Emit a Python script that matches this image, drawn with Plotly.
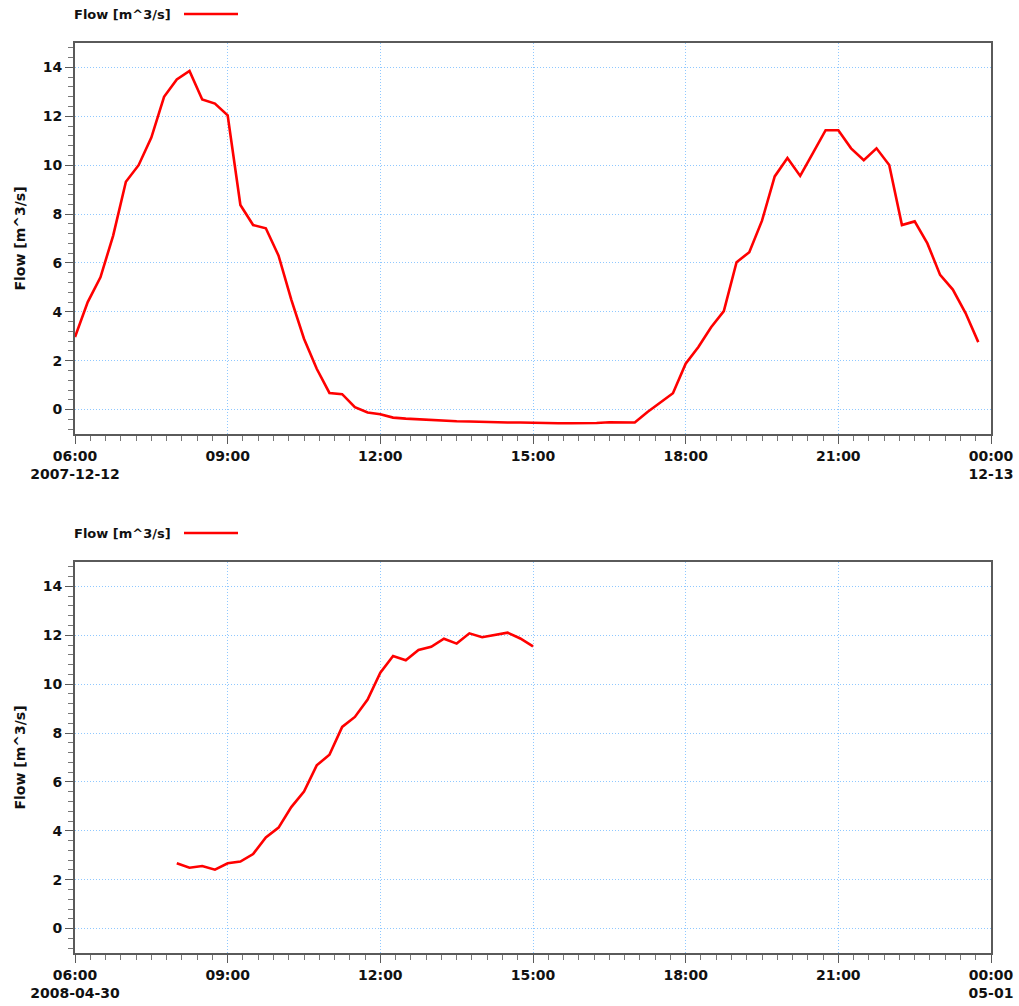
import pandas as pd
import plotly.graph_objects as go
from plotly.subplots import make_subplots

# ---- data ----
top_start = "2007-12-12 06:00"
top_values = [2.97, 4.40, 5.41, 7.12, 9.32, 10.00, 11.13, 12.80, 13.51, 13.86,
              12.69, 12.52, 12.04, 8.37, 7.55, 7.42, 6.30, 4.50, 2.90, 1.67,
              0.68, 0.63, 0.10, -0.12, -0.19, -0.33, -0.37, -0.40, -0.44, -0.46,
              -0.48, -0.49, -0.51, -0.52, -0.53, -0.53, -0.55, -0.56, -0.56, -0.56,
              -0.56, -0.55, -0.52, -0.51, -0.53, -0.10, 0.29, 0.67, 1.88, 2.56,
              3.37, 4.03, 6.03, 6.44, 7.73, 9.54, 10.29, 9.56, 10.49, 11.43,
              11.43, 10.69, 10.20, 10.69, 10.01, 7.55, 7.70, 6.80, 5.51, 4.91,
              3.95, 2.76]
bot_start = "2008-04-30 08:00"
bot_values = [2.67, 2.49, 2.56, 2.41, 2.67, 2.74, 3.05, 3.73, 4.13, 4.97,
              5.61, 6.68, 7.11, 8.25, 8.66, 9.37, 10.47, 11.15, 10.98, 11.40,
              11.53, 11.86, 11.66, 12.08, 11.92, 12.01, 12.11, 11.87, 11.55]
top_times = pd.date_range(top_start, periods=len(top_values), freq="15min")
bot_times = pd.date_range(bot_start, periods=len(bot_values), freq="15min")

top_range = ["2007-12-12 06:00", "2007-12-13 00:00"]
bot_range = ["2008-04-30 06:00", "2008-05-01 00:00"]
top_ticktext = ["06:00<br>2007-12-12", "09:00", "12:00", "15:00", "18:00", "21:00", "00:00<br>12-13"]
bot_ticktext = ["06:00<br>2008-04-30", "09:00", "12:00", "15:00", "18:00", "21:00", "00:00<br>05-01"]
y_tickvals = [0, 2, 4, 6, 8, 10, 12, 14]
series_name = "Flow [m^3/s]"
y_title = "Flow [m^3/s]"

# ---- figure ----
W, H = 1019, 1006
ML, MR, MT, MB = 75, 28, 43, 53
fig = make_subplots(rows=2, cols=1)

RED = "#ff0000"
fig.add_trace(go.Scatter(x=top_times, y=top_values, mode="lines",
                         line=dict(color=RED, width=2.6), name=series_name,
                         showlegend=False), row=1, col=1)
fig.add_trace(go.Scatter(x=bot_times, y=bot_values, mode="lines",
                         line=dict(color=RED, width=2.6), name=series_name,
                         showlegend=False), row=2, col=1)

plot_h = H - MT - MB
top_dom = [1 - 391 / plot_h, 1]
bot_dom = [0, 1 - (562 - MT) / plot_h]

FONT = "DejaVu Sans, Verdana, sans-serif"
GRID = "#8fc8ff"
AX = "#5a5a5a"
TXT = "#111111"

def xaxis_style(rng, ticktext):
    tv = pd.date_range(rng[0], rng[1], freq="3h")
    return dict(type="date", range=rng, tickvals=list(tv), ticktext=ticktext,
                showgrid=True, gridcolor=GRID, griddash="1px,2px", gridwidth=1,
                showline=True, linecolor=AX, linewidth=2, mirror=True,
                ticks="outside", ticklen=8, tickwidth=1, tickcolor=AX,
                tickfont=dict(family=FONT, size=14, color=TXT, weight="bold"),
                minor=dict(dtick=18 * 60 * 1000, tick0=rng[0], ticks="outside",
                           ticklen=5, tickcolor="#777", tickwidth=1, showgrid=False),
                zeroline=False, fixedrange=True, automargin=False)

def yaxis_style(dom):
    return dict(domain=dom, range=[-1, 15], tickvals=y_tickvals,
                showgrid=True, gridcolor=GRID, griddash="1px,2px", gridwidth=1,
                showline=True, linecolor=AX, linewidth=2, mirror=True,
                ticks="outside", ticklen=8, tickwidth=1, tickcolor=AX,
                tickfont=dict(family=FONT, size=14, color=TXT, weight="bold"),
                minor=dict(dtick=0.4, tick0=0, ticks="outside", ticklen=5,
                           tickcolor="#777", tickwidth=1, showgrid=False),
                title=dict(text=y_title, standoff=14,
                           font=dict(family=FONT, size=14, color=TXT, weight="bold")),
                zeroline=False, fixedrange=True, automargin=False)

fig.update_layout(
    width=W, height=H,
    margin=dict(l=ML, r=MR, t=MT, b=MB, pad=0, autoexpand=False),
    paper_bgcolor="white", plot_bgcolor="white",
    xaxis=xaxis_style(top_range, top_ticktext),
    xaxis2=xaxis_style(bot_range, bot_ticktext),
    yaxis=yaxis_style(top_dom),
    yaxis2=yaxis_style(bot_dom),
    showlegend=False,
)

# legend-like labels (text left, line sample right) above each panel
for ypix in (14, 533):
    yp = 1 - (ypix - MT) / plot_h
    fig.add_annotation(xref="paper", yref="paper", x=0, y=yp, text=series_name,
                       showarrow=False, xanchor="left", yanchor="middle", xshift=-3,
                       font=dict(family=FONT, size=13, color=TXT, weight="bold"))
    fig.add_shape(type="line", xref="paper", yref="paper",
                  x0=(184 - ML) / (W - ML - MR), x1=(238 - ML) / (W - ML - MR),
                  y0=yp, y1=yp, line=dict(color=RED, width=2.6))

fig.write_html("out.html", config={"displayModeBar": False},
               post_script="document.body.style.margin='0';document.body.style.overflow='hidden';")
